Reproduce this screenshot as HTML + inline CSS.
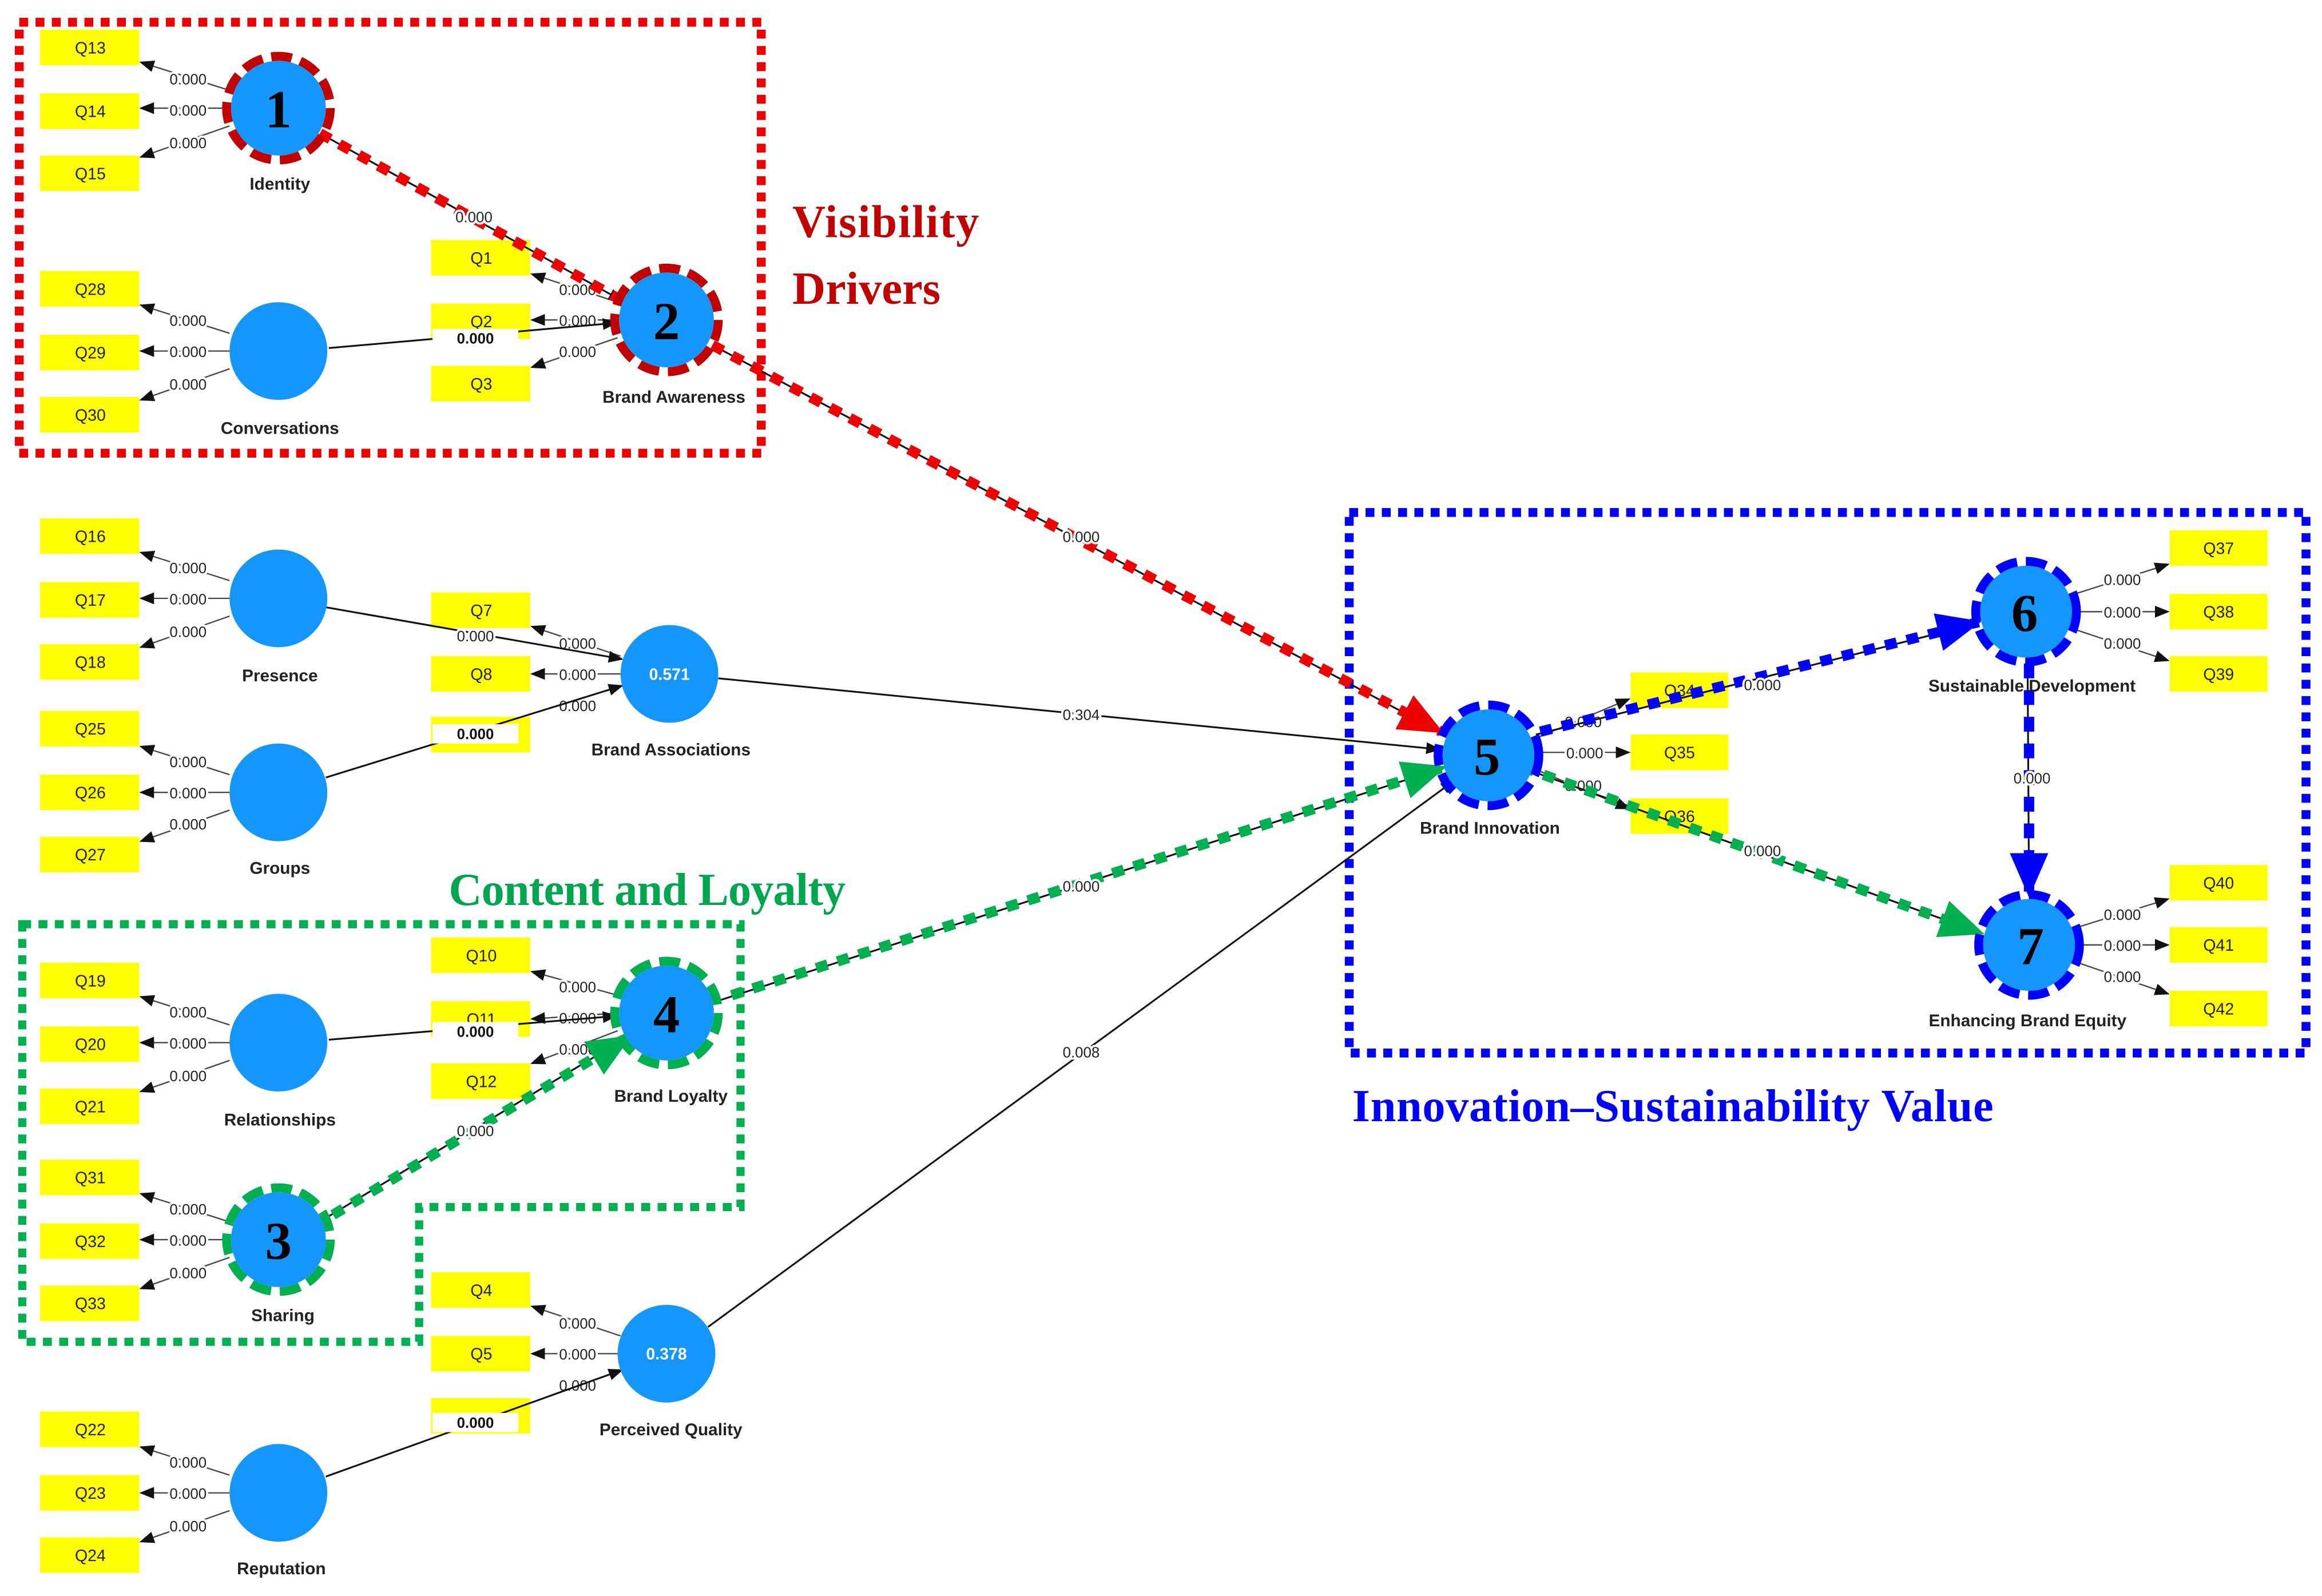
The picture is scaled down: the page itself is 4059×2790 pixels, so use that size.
<!DOCTYPE html>
<html><head><meta charset="utf-8"><style>
html,body{margin:0;padding:0;background:#fff}
svg{display:block}
.b{fill:#ffff00}
.bt{font:11px "Liberation Sans",sans-serif;text-anchor:middle;fill:#222}
.l{font:10px "Liberation Sans",sans-serif;text-anchor:middle;fill:#222;paint-order:stroke;stroke:#fff;stroke-width:3px}
.lw{font:bold 10px "Liberation Sans",sans-serif;text-anchor:middle;fill:#111}
.nm{font:bold 11.5px "Liberation Sans",sans-serif;text-anchor:middle;fill:#222}
.c{fill:#1496fc}
.ln{stroke:#111;stroke-width:1.2;fill:none}
.il{stroke:#444;stroke-width:0.9;fill:none}
.num{font:bold 36px "Liberation Serif",serif;text-anchor:middle;fill:#000}
.t{font:bold 31px "Liberation Serif",serif}
</style></head><body>
<svg width="4059" height="2790" viewBox="0 0 1567.8 1077.6" xmlns="http://www.w3.org/2000/svg">
<defs>
<marker id="a" markerWidth="10" markerHeight="8" refX="9" refY="4" orient="auto" markerUnits="userSpaceOnUse"><path d="M0,0 L10,4 L0,8 z" fill="#111"/></marker>
<marker id="ar" markerWidth="30" markerHeight="26" refX="28" refY="13" orient="auto" markerUnits="userSpaceOnUse"><path d="M0,0 L30,13 L0,26 z" fill="#ee0000"/></marker>
<marker id="ag" markerWidth="30" markerHeight="26" refX="28" refY="13" orient="auto" markerUnits="userSpaceOnUse"><path d="M0,0 L30,13 L0,26 z" fill="#00b050"/></marker>
<marker id="ab" markerWidth="30" markerHeight="26" refX="28" refY="13" orient="auto" markerUnits="userSpaceOnUse"><path d="M0,0 L30,13 L0,26 z" fill="#0000ff"/></marker>
</defs>

<rect x="13" y="15" width="501" height="291" fill="none" stroke="#ee0000" stroke-width="6" stroke-dasharray="6 5"/>
<path d="M15,624 L500,624 L500,815 L283,815 L283,906 L15,906 Z" fill="none" stroke="#00b050" stroke-width="5.5" stroke-dasharray="6 5"/>
<rect x="911" y="346" width="646" height="365" fill="none" stroke="#0000ff" stroke-width="6" stroke-dasharray="6 5"/>

<text class="t" x="535" y="160" fill="#c00000" textLength="126">Visibility</text>
<text class="t" x="535" y="205" fill="#c00000" textLength="100">Drivers</text>
<text class="t" x="303" y="611" fill="#00a550" textLength="268">Content and Loyalty</text>
<text class="t" x="913" y="757" fill="#0000ff" textLength="433">Innovation–Sustainability Value</text>

<g>
<rect class="b" x="27" y="20" width="67" height="24"/><text class="bt" x="61" y="36">Q13</text>
<rect class="b" x="27" y="63" width="67" height="24"/><text class="bt" x="61" y="79">Q14</text>
<rect class="b" x="27" y="105" width="67" height="24"/><text class="bt" x="61" y="121">Q15</text>
<rect class="b" x="27" y="183" width="67" height="24"/><text class="bt" x="61" y="199">Q28</text>
<rect class="b" x="27" y="226" width="67" height="24"/><text class="bt" x="61" y="242">Q29</text>
<rect class="b" x="27" y="268" width="67" height="24"/><text class="bt" x="61" y="284">Q30</text>
<rect class="b" x="27" y="350" width="67" height="24"/><text class="bt" x="61" y="366">Q16</text>
<rect class="b" x="27" y="393" width="67" height="24"/><text class="bt" x="61" y="409">Q17</text>
<rect class="b" x="27" y="435" width="67" height="24"/><text class="bt" x="61" y="451">Q18</text>
<rect class="b" x="27" y="480" width="67" height="24"/><text class="bt" x="61" y="496">Q25</text>
<rect class="b" x="27" y="523" width="67" height="24"/><text class="bt" x="61" y="539">Q26</text>
<rect class="b" x="27" y="565" width="67" height="24"/><text class="bt" x="61" y="581">Q27</text>
<rect class="b" x="27" y="650" width="67" height="24"/><text class="bt" x="61" y="666">Q19</text>
<rect class="b" x="27" y="693" width="67" height="24"/><text class="bt" x="61" y="709">Q20</text>
<rect class="b" x="27" y="735" width="67" height="24"/><text class="bt" x="61" y="751">Q21</text>
<rect class="b" x="27" y="783" width="67" height="24"/><text class="bt" x="61" y="799">Q31</text>
<rect class="b" x="27" y="826" width="67" height="24"/><text class="bt" x="61" y="842">Q32</text>
<rect class="b" x="27" y="868" width="67" height="24"/><text class="bt" x="61" y="884">Q33</text>
<rect class="b" x="27" y="953" width="67" height="24"/><text class="bt" x="61" y="969">Q22</text>
<rect class="b" x="27" y="996" width="67" height="24"/><text class="bt" x="61" y="1012">Q23</text>
<rect class="b" x="27" y="1038" width="67" height="24"/><text class="bt" x="61" y="1054">Q24</text>
</g>
<g>
<rect class="b" x="291" y="162" width="67" height="24"/><text class="bt" x="325" y="178">Q1</text>
<rect class="b" x="291" y="205" width="67" height="24"/><text class="bt" x="325" y="221">Q2</text>
<rect class="b" x="291" y="247" width="67" height="24"/><text class="bt" x="325" y="263">Q3</text>
<rect class="b" x="291" y="400" width="67" height="24"/><text class="bt" x="325" y="416">Q7</text>
<rect class="b" x="291" y="443" width="67" height="24"/><text class="bt" x="325" y="459">Q8</text>
<rect class="b" x="291" y="484" width="67" height="24"/>
<rect class="b" x="291" y="633" width="67" height="24"/><text class="bt" x="325" y="649">Q10</text>
<rect class="b" x="291" y="676" width="67" height="24"/><text class="bt" x="325" y="692">Q11</text>
<rect class="b" x="291" y="718" width="67" height="24"/><text class="bt" x="325" y="734">Q12</text>
<rect class="b" x="291" y="859" width="67" height="24"/><text class="bt" x="325" y="875">Q4</text>
<rect class="b" x="291" y="902" width="67" height="24"/><text class="bt" x="325" y="918">Q5</text>
<rect class="b" x="291" y="944" width="67" height="24"/>
</g>
<g>
<rect class="b" x="1101" y="454" width="66" height="24"/><text class="bt" x="1134" y="470">Q34</text>
<rect class="b" x="1101" y="496" width="66" height="24"/><text class="bt" x="1134" y="512">Q35</text>
<rect class="b" x="1101" y="539" width="66" height="24"/><text class="bt" x="1134" y="555">Q36</text>
<rect class="b" x="1465" y="358" width="66" height="24"/><text class="bt" x="1498" y="374">Q37</text>
<rect class="b" x="1465" y="401" width="66" height="24"/><text class="bt" x="1498" y="417">Q38</text>
<rect class="b" x="1465" y="443" width="66" height="24"/><text class="bt" x="1498" y="459">Q39</text>
<rect class="b" x="1465" y="584" width="66" height="24"/><text class="bt" x="1498" y="600">Q40</text>
<rect class="b" x="1465" y="626" width="66" height="24"/><text class="bt" x="1498" y="642">Q41</text>
<rect class="b" x="1465" y="669" width="66" height="24"/><text class="bt" x="1498" y="685">Q42</text>
</g>

<g class="il" marker-end="url(#a)">
<path d="M155,61 L95,42"/><path d="M155,73 L95,73"/><path d="M155,85 L95,106"/>
<path d="M155,225 L95,206"/><path d="M155,237 L95,237"/><path d="M155,249 L95,270"/>
<path d="M155,392 L95,373"/><path d="M155,404 L95,404"/><path d="M155,416 L95,437"/>
<path d="M155,523 L95,504"/><path d="M155,535 L95,535"/><path d="M155,547 L95,568"/>
<path d="M155,692 L95,673"/><path d="M155,704 L95,704"/><path d="M155,716 L95,737"/>
<path d="M155,825 L95,806"/><path d="M155,837 L95,837"/><path d="M155,849 L95,870"/>
<path d="M155,996 L95,977"/><path d="M155,1008 L95,1008"/><path d="M155,1020 L95,1041"/>
<path d="M417,204 L359,185"/><path d="M417,216 L359,216"/><path d="M417,228 L359,248"/>
<path d="M419,443 L359,423"/><path d="M419,455 L359,455"/>
<path d="M417,672 L359,656"/><path d="M417,684 L359,688"/><path d="M417,696 L359,718"/>
<path d="M419,902 L359,882"/><path d="M419,914 L359,914"/>
<path d="M1038,498 L1100,472"/><path d="M1038,508 L1100,508"/><path d="M1038,520 L1100,546"/>
<path d="M1401,401 L1464,381"/><path d="M1401,413 L1464,413"/><path d="M1401,425 L1464,446"/>
<path d="M1403,626 L1464,607"/><path d="M1403,638 L1464,638"/><path d="M1403,650 L1464,671"/>
</g>
<g>
<text class="l" x="127" y="57">0.000</text><text class="l" x="127" y="78">0.000</text><text class="l" x="127" y="100">0.000</text>
<text class="l" x="127" y="220">0.000</text><text class="l" x="127" y="241">0.000</text><text class="l" x="127" y="263">0.000</text>
<text class="l" x="127" y="387">0.000</text><text class="l" x="127" y="408">0.000</text><text class="l" x="127" y="430">0.000</text>
<text class="l" x="127" y="518">0.000</text><text class="l" x="127" y="539">0.000</text><text class="l" x="127" y="560">0.000</text>
<text class="l" x="127" y="687">0.000</text><text class="l" x="127" y="708">0.000</text><text class="l" x="127" y="730">0.000</text>
<text class="l" x="127" y="820">0.000</text><text class="l" x="127" y="841">0.000</text><text class="l" x="127" y="863">0.000</text>
<text class="l" x="127" y="991">0.000</text><text class="l" x="127" y="1012">0.000</text><text class="l" x="127" y="1034">0.000</text>
<text class="l" x="390" y="199">0.000</text><text class="l" x="390" y="220">0.000</text><text class="l" x="390" y="241">0.000</text>
<text class="l" x="390" y="438">0.000</text><text class="l" x="390" y="459">0.000</text><text class="l" x="390" y="480">0.000</text>
<text class="l" x="390" y="670">0.000</text><text class="l" x="390" y="691">0.000</text><text class="l" x="390" y="712">0.000</text>
<text class="l" x="390" y="897">0.000</text><text class="l" x="390" y="918">0.000</text><text class="l" x="390" y="939">0.000</text>
<text class="l" x="1069" y="491">0.000</text><text class="l" x="1070" y="512">0.000</text><text class="l" x="1069" y="534">0.000</text>
<text class="l" x="1433" y="395">0.000</text><text class="l" x="1433" y="417">0.000</text><text class="l" x="1433" y="438">0.000</text>
<text class="l" x="1433" y="621">0.000</text><text class="l" x="1433" y="642">0.000</text><text class="l" x="1433" y="663">0.000</text>
</g>

<g class="ln" marker-end="url(#a)">
<path d="M216,90 L420,203"/>
<path d="M222,235 L416,218"/>
<path d="M481,233 L972,494"/>
<path d="M220,410 L420,445"/>
<path d="M220,525 L420,463"/>
<path d="M485,458 L972,506"/>
<path d="M222,702 L416,686"/>
<path d="M214,826 L424,700"/>
<path d="M484,676 L973,519"/>
<path d="M478,896 L982,527"/>
<path d="M220,997 L420,925"/>
<path d="M1037,496 L1335,421"/>
<path d="M1035,521 L1338,630"/>
<path d="M1369,446 L1370,604"/>
</g>
<path d="M216,90 L420,203" stroke="#ee0000" stroke-width="7" stroke-dasharray="8 7" fill="none"/>
<path d="M481,233 L973,494" stroke="#ee0000" stroke-width="7" stroke-dasharray="8 7" fill="none" marker-end="url(#ar)"/>
<path d="M212,828 L425,700" stroke="#00b050" stroke-width="7" stroke-dasharray="8 7" fill="none" marker-end="url(#ag)"/>
<path d="M494,672 L975,518" stroke="#00b050" stroke-width="7" stroke-dasharray="8 7" fill="none" marker-end="url(#ag)"/>
<path d="M1028,518 L1338,630" stroke="#00b050" stroke-width="7" stroke-dasharray="8 7" fill="none" marker-end="url(#ag)"/>
<path d="M1040,494 L1336,420" stroke="#0000ff" stroke-width="7" stroke-dasharray="8 7" fill="none" marker-end="url(#ab)"/>
<path d="M1370,448 L1370,604" stroke="#0000ff" stroke-width="7" stroke-dasharray="10 8" fill="none" marker-end="url(#ab)"/>

<text class="l" x="320" y="150">0.000</text>
<rect x="292" y="222" width="58" height="13" fill="#fff"/><text class="lw" x="321" y="232">0.000</text>
<text class="l" x="730" y="366">0.000</text>
<text class="l" x="321" y="433">0.000</text>
<rect x="292" y="489" width="58" height="13" fill="#fff"/><text class="lw" x="321" y="499">0.000</text>
<text class="l" x="730" y="486">0.304</text>
<rect x="292" y="690" width="58" height="13" fill="#fff"/><text class="lw" x="321" y="700">0.000</text>
<text class="l" x="321" y="767">0.000</text>
<text class="l" x="730" y="602">0.000</text>
<text class="l" x="730" y="714">0.008</text>
<rect x="292" y="954" width="58" height="13" fill="#fff"/><text class="lw" x="321" y="964">0.000</text>
<text class="l" x="1190" y="466">0.000</text>
<text class="l" x="1190" y="578">0.000</text>
<text class="l" x="1372" y="529">0.000</text>

<g>
<circle class="c" cx="188" cy="73" r="32"/>
<circle class="c" cx="188" cy="237" r="33"/>
<circle class="c" cx="450" cy="216" r="32"/>
<circle class="c" cx="188" cy="404" r="33"/>
<circle class="c" cx="452" cy="455" r="33"/>
<circle class="c" cx="188" cy="535" r="33"/>
<circle class="c" cx="188" cy="704" r="33"/>
<circle class="c" cx="450" cy="684" r="32"/>
<circle class="c" cx="188" cy="837" r="32"/>
<circle class="c" cx="450" cy="914" r="33"/>
<circle class="c" cx="188" cy="1008" r="33"/>
<circle class="c" cx="1005" cy="510" r="31"/>
<circle class="c" cx="1368" cy="413" r="31"/>
<circle class="c" cx="1370" cy="638" r="31"/>
</g>
<circle cx="188" cy="73" r="35" fill="none" stroke="#c00000" stroke-width="6" stroke-dasharray="14 6"/>
<circle cx="450" cy="216" r="35" fill="none" stroke="#c00000" stroke-width="6" stroke-dasharray="14 6"/>
<circle cx="188" cy="837" r="35" fill="none" stroke="#00b050" stroke-width="6" stroke-dasharray="14 6"/>
<circle cx="450" cy="684" r="35" fill="none" stroke="#00b050" stroke-width="6" stroke-dasharray="14 6"/>
<circle cx="1005" cy="510" r="34" fill="none" stroke="#0000ff" stroke-width="6" stroke-dasharray="14 6"/>
<circle cx="1368" cy="413" r="34" fill="none" stroke="#0000ff" stroke-width="6" stroke-dasharray="14 6"/>
<circle cx="1370" cy="638" r="34" fill="none" stroke="#0000ff" stroke-width="6" stroke-dasharray="14 6"/>

<text class="num" x="188" y="86">1</text>
<text class="num" x="450" y="229">2</text>
<text class="num" x="188" y="850">3</text>
<text class="num" x="450" y="697">4</text>
<text class="num" x="1004" y="523">5</text>
<text class="num" x="1367" y="426">6</text>
<text class="num" x="1371" y="651">7</text>
<text x="452" y="459" style="font:bold 11px 'Liberation Sans',sans-serif;text-anchor:middle;fill:#fff">0.571</text>
<text x="450" y="918" style="font:bold 11px 'Liberation Sans',sans-serif;text-anchor:middle;fill:#fff">0.378</text>

<text class="nm" x="189" y="128">Identity</text>
<text class="nm" x="189" y="293">Conversations</text>
<text class="nm" x="455" y="272">Brand Awareness</text>
<text class="nm" x="189" y="460">Presence</text>
<text class="nm" x="453" y="510">Brand Associations</text>
<text class="nm" x="189" y="590">Groups</text>
<text class="nm" x="189" y="760">Relationships</text>
<text class="nm" x="453" y="744">Brand Loyalty</text>
<text class="nm" x="191" y="892">Sharing</text>
<text class="nm" x="453" y="969">Perceived Quality</text>
<text class="nm" x="190" y="1063">Reputation</text>
<text class="nm" x="1006" y="563">Brand Innovation</text>
<text class="nm" x="1372" y="467">Sustainable Development</text>
<text class="nm" x="1369" y="693">Enhancing Brand Equity</text>
</svg>
</body></html>
